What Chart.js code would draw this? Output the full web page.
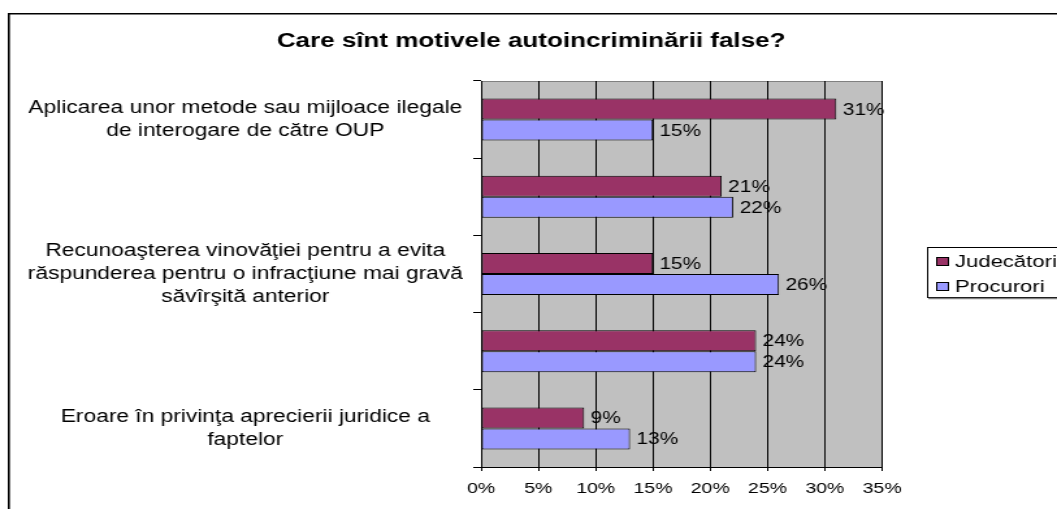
<!DOCTYPE html>
<html>
<head>
<meta charset="utf-8">
<script src="https://cdn.jsdelivr.net/npm/chart.js@4/dist/chart.umd.min.js"></script>
<style>
  html, body { margin: 0; padding: 0; background: #fff; overflow: hidden; }
</style>
</head>
<body>
<!-- the original picture is stretched sideways, so the canvas is drawn narrow and widened by its style -->
<canvas id="chart" width="813" height="509" style="display:block;width:1057px;height:509px"></canvas>
<script>
const chartTitle = "Care sînt motivele autoincriminării false?";
const categories = [
  ["Aplicarea unor metode sau mijloace ilegale", "de interogare de către OUP"],
  "",
  ["Recunoaşterea vinovăţiei pentru a evita", "răspunderea pentru o infracţiune mai gravă", "săvîrşită anterior"],
  "",
  ["Eroare în privinţa aprecierii juridice a", "faptelor"]
];
const judecatori = [31, 21, 15, 24, 9];
const procurori = [15, 22, 26, 24, 13];
const xTicks = [0, 5, 10, 15, 20, 25, 30, 35];

const FONT = '"Liberation Sans", Arial, sans-serif';
Chart.defaults.font.family = FONT;
Chart.defaults.color = "#000";

// plot background, outer frame, title over the whole picture
const frame = {
  id: "frame",
  beforeDraw(chart) {
    const { ctx, chartArea: a, width, height } = chart;
    ctx.save();
    ctx.fillStyle = "#fff";
    ctx.fillRect(0, 0, width, height);
    ctx.strokeStyle = "#000";
    ctx.lineWidth = 1.6;
    ctx.beginPath();
    ctx.moveTo(6.8, height + 5);
    ctx.lineTo(6.8, 13.8);
    ctx.lineTo(width + 5, 13.8);
    ctx.stroke();
    ctx.fillStyle = "#c0c0c0";
    ctx.fillRect(a.left, a.top, a.right - a.left, a.bottom - a.top);
    ctx.strokeStyle = "#808080";
    ctx.lineWidth = 1;
    ctx.beginPath();
    ctx.moveTo(a.left, a.top + 0.5);
    ctx.lineTo(a.right, a.top + 0.5);
    ctx.stroke();
    ctx.fillStyle = "#000";
    ctx.font = "bold 20px " + FONT;
    ctx.textAlign = "center";
    ctx.textBaseline = "middle";
    ctx.fillText(chartTitle, 408.5, 41);
    ctx.restore();
  }
};

// value labels at the end of each bar
const valueLabels = {
  id: "valueLabels",
  afterDatasetsDraw(chart) {
    const ctx = chart.ctx;
    ctx.save();
    ctx.font = "16px " + FONT;
    ctx.fillStyle = "#000";
    ctx.textAlign = "left";
    ctx.textBaseline = "middle";
    chart.data.datasets.forEach((ds, i) => {
      chart.getDatasetMeta(i).data.forEach((bar, j) => {
        ctx.fillText(ds.data[j] + "%", bar.x + 5, bar.y + 1);
      });
    });
    ctx.restore();
  }
};

// boxed legend on the right, cut by the edge like the original
const boxLegend = {
  id: "boxLegend",
  afterDraw(chart) {
    const ctx = chart.ctx;
    const lx = 713, ly = 247.5, lh = 50;
    ctx.save();
    ctx.fillStyle = "#fff";
    ctx.fillRect(lx, ly, chart.width, lh);
    ctx.strokeStyle = "#000";
    ctx.lineWidth = 1;
    ctx.strokeRect(lx + 0.5, ly, chart.width, lh);
    ctx.strokeStyle = "#808080";
    ctx.lineWidth = 1.5;
    ctx.beginPath();
    ctx.moveTo(lx + 1, ly + lh + 1);
    ctx.lineTo(chart.width, ly + lh + 1);
    ctx.stroke();
    ctx.font = "17px " + FONT;
    ctx.textBaseline = "middle";
    chart.data.datasets.forEach((ds, i) => {
      const cy = ly + 14 + i * 25;
      ctx.fillStyle = ds.backgroundColor;
      ctx.fillRect(720.5, cy - 4, 9, 8);
      ctx.strokeStyle = "#000";
      ctx.lineWidth = 1;
      ctx.strokeRect(720.5, cy - 4, 9, 8);
      ctx.fillStyle = "#000";
      ctx.fillText(ds.label, 734.5, cy + 1);
    });
    ctx.restore();
  }
};

new Chart(document.getElementById("chart"), {
  type: "bar",
  data: {
    labels: categories,
    datasets: [
      {
        label: "Judecători",
        data: judecatori,
        backgroundColor: "#993366",
        borderColor: "#000",
        borderWidth: 1,
        borderSkipped: false,
        categoryPercentage: 0.544,
        barPercentage: 1
      },
      {
        label: "Procurori",
        data: procurori,
        backgroundColor: "#9999ff",
        borderColor: "#000",
        borderWidth: 1,
        borderSkipped: false,
        categoryPercentage: 0.544,
        barPercentage: 1
      }
    ]
  },
  options: {
    indexAxis: "y",
    responsive: false,
    devicePixelRatio: 1,
    animation: false,
    layout: { padding: { left: 0, right: 134.5, top: 81, bottom: 0 } },
    plugins: {
      legend: { display: false },
      tooltip: { enabled: false },
      title: { display: false }
    },
    scales: {
      x: {
        min: xTicks[0],
        max: xTicks[xTicks.length - 1],
        afterBuildTicks: (s) => { s.ticks = xTicks.map((v) => ({ value: v })); },
        afterFit: (s) => { s.height = 42; },
        ticks: {
          callback: (v) => v + "%",
          font: { size: 15 },
          color: "#000",
          padding: 9
        },
        grid: { color: "#000", tickLength: 4 },
        border: { color: "#000" }
      },
      y: {
        afterFit: (s) => { s.width = 370; },
        ticks: {
          autoSkip: false,
          crossAlign: "center",
          padding: 8,
          font: { size: 17.5, lineHeight: 1.3 },
          color: "#000"
        },
        grid: { offset: true, drawOnChartArea: false, color: "#000", tickLength: 6 },
        border: { color: "#000" }
      }
    }
  },
  plugins: [frame, valueLabels, boxLegend]
});
</script>
</body>
</html>
